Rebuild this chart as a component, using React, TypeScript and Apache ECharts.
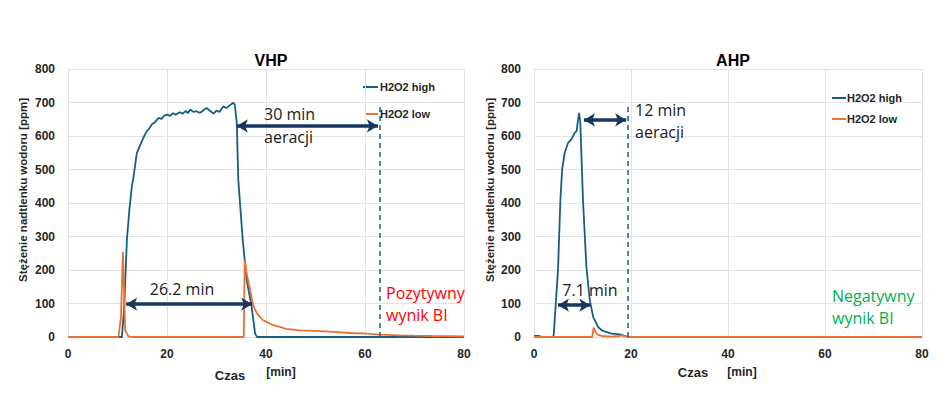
import React, { useEffect, useRef } from "react";
import * as echarts from "echarts";

// ---- data (time [min], concentration [ppm]) ----
const vhpHigh: [number, number][] = [
  [0, 0], [10.9, 0], [11.35, 90], [11.9, 290], [12.4, 380], [12.9, 449], [13.2, 474], [13.9, 549],
  [14.5, 570], [15.2, 594], [15.9, 614], [16.4, 622], [16.9, 634], [17.5, 640], [18.3, 654],
  [18.9, 651], [19.4, 660], [20.0, 664], [20.6, 660], [21.2, 668], [21.8, 664], [22.6, 671],
  [23.2, 667], [23.8, 675], [24.2, 668], [24.7, 679], [25.3, 672], [25.9, 674], [26.7, 669],
  [27.3, 676], [28.0, 684], [28.6, 676], [29.4, 667], [30.0, 676], [30.6, 672], [31.4, 689],
  [32.0, 683], [32.7, 692], [33.4, 699], [33.7, 694], [34.1, 639], [34.4, 469], [35.3, 290],
  [36.1, 170], [37.1, 90], [37.8, 10], [38.2, 0], [80, 0],
];
const vhpLow: [number, number][] = [
  [0, 0], [10.2, 0], [10.7, 60], [11.1, 254], [11.55, 20], [12.2, 2], [13, 0], [35.5, 0],
  [35.7, 230], [36.1, 190], [36.8, 140], [37.4, 95], [38.1, 72], [38.8, 60], [39.4, 50],
  [40.1, 45], [41.3, 36], [42.8, 30], [44, 24], [45.5, 22], [46.8, 20], [50, 18], [53.6, 15],
  [57, 12], [60.3, 10], [63, 7], [67, 5], [70, 4], [73.7, 3], [77, 2.5], [80, 2],
];
const ahpHigh: [number, number][] = [
  [0, 3], [1, 3], [1.5, 1], [3.9, 0], [4.06, 5], [4.95, 200], [5.44, 409], [5.8, 500],
  [6.33, 549], [7.0, 579], [7.7, 590], [8.4, 609], [8.8, 615], [9.0, 640], [9.3, 669],
  [9.55, 639], [10.1, 409], [10.8, 210], [11.5, 110], [12.2, 60], [13.2, 30], [14.0, 20],
  [14.9, 15], [16, 10], [17.7, 8], [18.5, 4], [19.5, 0], [80, 0],
];
const ahpLow: [number, number][] = [
  [0, 0], [12.0, 0], [12.3, 28], [12.7, 15], [13.2, 6], [14, 3], [16, 1], [17.5, 3],
  [18.2, 5], [18.8, 2], [20, 0], [80, 0],
];

const chartTitles = ["VHP", "AHP"];
const seriesNames = ["H2O2 high", "H2O2 low"];
const xTicks = { min: 0, max: 80, interval: 20 };
const yTicks = { min: 0, max: 800, interval: 100 };

// annotations: [x1, x2, y] in data units
const vhpArrows: [number, number, number][] = [[34.1, 62.6, 630], [11.75, 37.2, 98]];
const ahpArrows: [number, number, number][] = [[10.3, 19.0, 648], [4.95, 11.6, 95]];
// dashed end-of-aeration lines: [x, yTop]
const vhpDashed: [number, number] = [63, 693];
const ahpDashed: [number, number] = [19.4, 693];

const BLUE = "#156082";
const ORANGE = "#E97132";
const ARROW = "#17375E";
const AX_FONT = "Liberation Sans";
const ANN_FONT = "Open Sans";

export default function App() {
  const ref = useRef<HTMLDivElement>(null);

  useEffect(() => {
    if (!ref.current) return;
    const chart = echarts.init(ref.current, undefined, { renderer: "svg" });

    const grids = [
      { left: 68, top: 69, width: 396, height: 268 },
      { left: 534, top: 69, width: 388, height: 268 },
    ];

    const xAxes = [0, 1].map((i) => ({
      type: "value",
      gridIndex: i,
      ...xTicks,
      axisLine: { show: true, lineStyle: { color: "#d9d9d9" } },
      axisTick: { show: false },
      axisLabel: { fontFamily: AX_FONT, fontWeight: "bold", fontSize: 12, color: "#262626", margin: 11 },
      splitLine: { show: true, lineStyle: { color: "#e3e3e3" } },
    }));
    const yAxes = [0, 1].map((i) => ({
      type: "value",
      gridIndex: i,
      ...yTicks,
      axisLine: { show: false },
      axisTick: { show: false },
      axisLabel: { fontFamily: AX_FONT, fontWeight: "bold", fontSize: 12, color: "#262626", margin: 13 },
      splitLine: { show: true, lineStyle: { color: "#e3e3e3" } },
    }));

    const arrowLines = (arr: [number, number, number][], dashed: [number, number]) => [
      {
        silent: true,
        symbol: ["arrow", "arrow"],
        symbolSize: [10, 11],
        label: { show: false },
        lineStyle: { color: ARROW, width: 3.5, type: "solid" },
        data: arr.map(([a, b, y]) => [{ coord: [a, y] }, { coord: [b, y] }]),
      },
      {
        silent: true,
        symbol: ["none", "none"],
        label: { show: false },
        lineStyle: { color: BLUE, width: 1.5, type: [5, 4] },
        data: [[{ coord: [dashed[0], 0] }, { coord: [dashed[0], dashed[1]] }]],
      },
    ];

    const mkLine = (name: string, data: [number, number][], i: number, color: string, markLine?: any) => ({
      type: "line",
      name,
      xAxisIndex: i,
      yAxisIndex: i,
      data,
      showSymbol: false,
      symbol: "none",
      lineStyle: { color, width: 1.8 },
      itemStyle: { color },
      markLine,
    });

    const [vhpArrowML, vhpDashML] = arrowLines(vhpArrows, vhpDashed);
    const [ahpArrowML, ahpDashML] = arrowLines(ahpArrows, ahpDashed);

    const series: any[] = [
      mkLine(seriesNames[0], vhpHigh, 0, BLUE, vhpDashML),
      mkLine(seriesNames[1], vhpLow, 0, ORANGE),
      mkLine(seriesNames[0], ahpHigh, 1, BLUE, ahpDashML),
      mkLine(seriesNames[1], ahpLow, 1, ORANGE),
      // arrows on top
      { type: "line", xAxisIndex: 0, yAxisIndex: 0, data: [], markLine: vhpArrowML, z: 5 },
      { type: "line", xAxisIndex: 1, yAxisIndex: 1, data: [], markLine: ahpArrowML, z: 5 },
    ];

    const txt = (text: string, x: number, y: number, opts: any = {}) => ({
      type: "text",
      x,
      y,
      silent: true,
      z: 10,
      style: {
        text,
        fill: opts.fill || "#1a1a1a",
        fontFamily: opts.fontFamily || ANN_FONT,
        fontSize: opts.fontSize || 16,
        fontWeight: opts.fontWeight || "normal",
        textAlign: opts.align || "left",
        textVerticalAlign: "middle",
      },
      rotation: opts.rotation || 0,
    });
    const legendLine = (x1: number, x2: number, y: number, color: string) => ({
      type: "line",
      silent: true,
      shape: { x1, y1: y, x2, y2: y },
      style: { stroke: color, lineWidth: 2 },
    });
    const axTxt = { fontFamily: AX_FONT, fontWeight: "bold", fill: "#262626" };

    const graphic: any[] = [
      // y-axis names
      txt("Stężenie nadtlenku wodoru [ppm]", 23, 190, { ...axTxt, fontSize: 11.5, align: "center", rotation: Math.PI / 2 }),
      txt("Stężenie nadtlenku wodoru [ppm]", 490, 190, { ...axTxt, fontSize: 11.5, align: "center", rotation: Math.PI / 2 }),
      // x-axis names
      txt("Czas", 230, 375, { ...axTxt, fontSize: 13, align: "center" }),
      txt("[min]", 281, 372, { ...axTxt, fontSize: 12, align: "center" }),
      txt("Czas", 693, 372, { ...axTxt, fontSize: 13, align: "center" }),
      txt("[min]", 742, 372, { ...axTxt, fontSize: 12, align: "center" }),
      // legends
      legendLine(363, 378, 87, BLUE),
      txt(seriesNames[0], 380, 87, { ...axTxt, fontSize: 11 }),
      legendLine(365, 378, 114, ORANGE),
      txt(seriesNames[1], 380, 114, { ...axTxt, fontSize: 11 }),
      legendLine(832, 846, 98, BLUE),
      txt(seriesNames[0], 847, 98, { ...axTxt, fontSize: 11 }),
      legendLine(832, 846, 119, ORANGE),
      txt(seriesNames[1], 847, 119, { ...axTxt, fontSize: 11 }),
      // annotations VHP
      txt("30 min", 264, 114),
      txt("aeracji", 264, 137),
      txt("26.2 min", 182, 289, { align: "center" }),
      txt("Pozytywny", 386, 293, { fill: "#FF0000" }),
      txt("wynik BI", 386, 315, { fill: "#FF0000" }),
      // annotations AHP
      txt("12 min", 635, 110),
      txt("aeracji", 635, 132),
      txt("7.1 min", 590, 290, { align: "center" }),
      txt("Negatywny", 832, 296, { fill: "#00B050" }),
      txt("wynik BI", 832, 318, { fill: "#00B050" }),
    ];

    chart.setOption({
      animation: false,
      backgroundColor: "#ffffff",
      title: [
        { text: chartTitles[0], left: 266, top: 47, textAlign: "center", textStyle: { fontFamily: AX_FONT, fontWeight: "bold", fontSize: 16, color: "#000" } },
        { text: chartTitles[1], left: 728, top: 47, textAlign: "center", textStyle: { fontFamily: AX_FONT, fontWeight: "bold", fontSize: 16, color: "#000" } },
      ],
      grid: grids,
      xAxis: xAxes,
      yAxis: yAxes,
      series,
      graphic,
    });

    return () => chart.dispose();
  }, []);

  return <div ref={ref} style={{ position: "fixed", left: 0, top: 0, width: 945, height: 416 }} />;
}
